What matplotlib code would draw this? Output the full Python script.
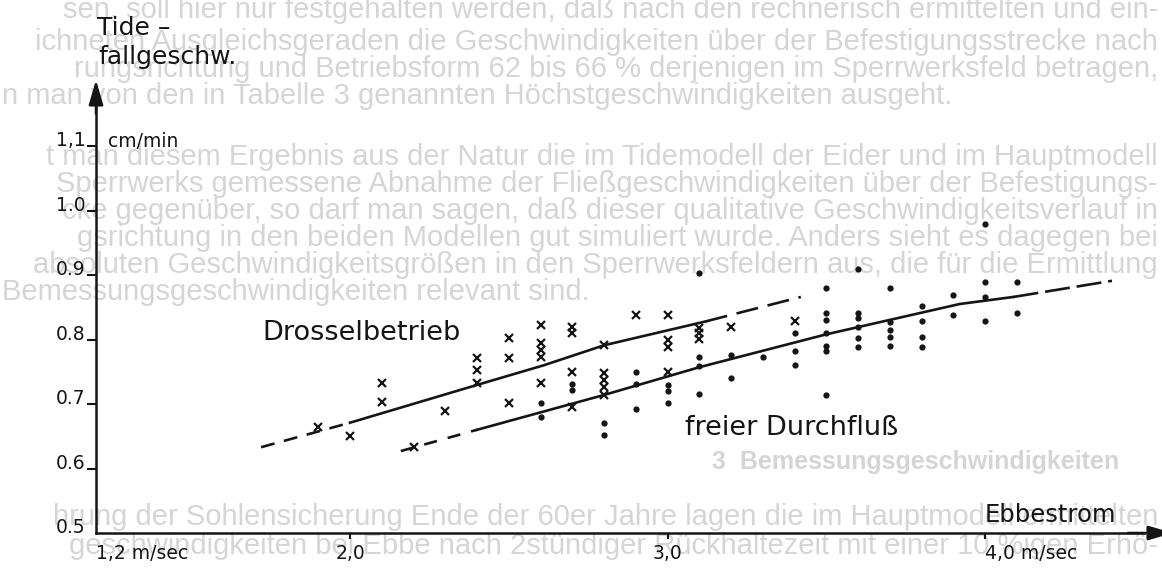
"""
Tidefallgeschwindigkeit über der Ebbestromgeschwindigkeit
(Drosselbetrieb / freier Durchfluß) – Nachzeichnung einer gescannten Abbildung.
"""

import matplotlib
matplotlib.use("Agg")
import matplotlib.pyplot as plt

# ── Messwerte: Ebbestrom [m/sec] / Tidefallgeschw. [cm/min] ──────────────────
drossel_x = [1.9, 2.0, 2.1, 2.1, 2.2, 2.3, 2.4, 2.4, 2.4, 2.5, 2.5, 2.5,
             2.6, 2.6, 2.6, 2.6, 2.6, 2.7, 2.7, 2.7, 2.7,
             2.8, 2.8, 2.8, 2.8, 2.8, 2.9, 3.0, 3.0, 3.0, 3.0,
             3.1, 3.1, 3.1, 3.2, 3.4]
drossel_y = [0.664, 0.650, 0.733, 0.703, 0.633, 0.689, 0.771, 0.753, 0.733,
             0.802, 0.771, 0.702,
             0.822, 0.795, 0.784, 0.773, 0.733, 0.819, 0.810, 0.750, 0.695,
             0.791, 0.748, 0.737, 0.726, 0.714, 0.838, 0.838, 0.799, 0.788, 0.750,
             0.818, 0.810, 0.801, 0.819, 0.829]

frei_x = [2.6, 2.6, 2.7, 2.7, 2.8, 2.8, 2.9, 2.9, 2.9, 3.0, 3.0, 3.0,
          3.1, 3.1, 3.1, 3.1, 3.2, 3.2, 3.3, 3.4, 3.4, 3.4,
          3.5, 3.5, 3.5, 3.5, 3.5, 3.5, 3.5,
          3.6, 3.6, 3.6, 3.6, 3.6, 3.6,
          3.7, 3.7, 3.7, 3.7, 3.7,
          3.8, 3.8, 3.8, 3.8, 3.9, 3.9,
          4.0, 4.0, 4.0, 4.0, 4.1, 4.1]
frei_y = [0.702, 0.680, 0.731, 0.722, 0.671, 0.652, 0.750, 0.731, 0.692,
          0.729, 0.720, 0.702,
          0.903, 0.773, 0.759, 0.716, 0.776, 0.740, 0.773, 0.810, 0.782, 0.760,
          0.880, 0.841, 0.830, 0.810, 0.790, 0.782, 0.714,
          0.909, 0.841, 0.833, 0.819, 0.802, 0.788,
          0.880, 0.827, 0.815, 0.804, 0.790,
          0.852, 0.829, 0.804, 0.788, 0.869, 0.838,
          0.979, 0.889, 0.866, 0.829, 0.889, 0.841]

# Ausgleichskurven (gestrichelt = extrapoliert)
drossel_fit_x = [1.72, 2.00, 2.41, 2.61, 2.80, 3.12, 3.42]
drossel_fit_y = [0.633, 0.671, 0.731, 0.760, 0.791, 0.828, 0.866]
frei_fit_x = [2.16, 2.40, 2.80, 3.10, 3.50, 3.92, 4.09, 4.40]
frei_fit_y = [0.627, 0.660, 0.714, 0.757, 0.808, 0.855, 0.866, 0.891]

y_ticks = [0.5, 0.6, 0.7, 0.8, 0.9, 1.0, 1.1]
y_ticklabels = ["0.5", "0.6", "0.7", "0.8", "0.9", "1.0", "1,1"]
x_ticks = [1.2, 2.0, 3.0, 4.0]
x_ticklabels = ["1,2 m/sec", "2,0", "3,0", "4,0 m/sec"]

# durchscheinender Text der Rückseite (Scan), nur der sichtbare Teil
bg_right = [
    (10, "sen, soll hier nur festgehalten werden, daß nach den rechnerisch ermittelten und ein-"),
    (42, "ichneten Ausgleichsgeraden die Geschwindigkeiten über der Befestigungsstrecke nach"),
    (69, "rungsrichtung und Betriebsform 62 bis 66 % derjenigen im Sperrwerksfeld betragen,"),
    (157, "t man diesem Ergebnis aus der Natur die im Tidemodell der Eider und im Hauptmodell"),
    (184, "Sperrwerks gemessene Abnahme der Fließgeschwindigkeiten über der Befestigungs-"),
    (211, "cke gegenüber, so darf man sagen, daß dieser qualitative Geschwindigkeitsverlauf in"),
    (238, "gsrichtung in den beiden Modellen gut simuliert wurde. Anders sieht es dagegen bei"),
    (265, "absoluten Geschwindigkeitsgrößen in den Sperrwerksfeldern aus, die für die Ermittlung"),
    (517, "hrung der Sohlensicherung Ende der 60er Jahre lagen die im Hauptmodell ermittelten"),
    (546, "geschwindigkeiten bei Ebbe nach 2stündiger Rückhaltezeit mit einer 10 %igen Erhö-"),
]
bg_left = [
    (96, "n man von den in Tabelle 3 genannten Höchstgeschwindigkeiten ausgeht."),
    (292, "Bemessungsgeschwindigkeiten relevant sind."),
]
bg_heading = (462, 712, "3  Bemessungsgeschwindigkeiten")

INK = "#151515"
GHOST = "#d5d5d5"
W, H = 1162, 568
BG_SIZE = 21

plt.rcParams["font.family"] = ["DejaVu Sans"]
plt.rcParams["lines.scale_dashes"] = False

fig = plt.figure(figsize=(W / 100, H / 100), dpi=100)
fig.patch.set_facecolor("white")

for py, txt in bg_right:
    fig.text(1158 / W, 1 - py / H, txt, ha="right", va="center", fontsize=BG_SIZE,
             color=GHOST, family="Liberation Sans", zorder=-1)
for py, txt in bg_left:
    fig.text(2 / W, 1 - py / H, txt, ha="left", va="center", fontsize=BG_SIZE,
             color=GHOST, family="Liberation Sans", zorder=-1)
fig.text(bg_heading[1] / W, 1 - bg_heading[0] / H, bg_heading[2], ha="left",
         va="center", fontsize=18, fontweight="bold", color=GHOST,
         family="Liberation Sans", zorder=-1)

ax = fig.add_axes([0, 0, 1, 1])
ax.set_facecolor("none")
# 1.2 m/sec ↔ 96 px, 317.5 px je m/sec ; 0.5 ↔ 533 px, 645 px je cm/min
ax.set_xlim(1.2 - 96 / 317.5, 1.2 + (W - 96) / 317.5)
ax.set_ylim(0.5 - (H - 533) / 645, 0.5 + 533 / 645)

# ── Achsen mit Pfeilen ───────────────────────────────────────────────────────
ax.spines[["top", "right"]].set_visible(False)
ax.spines["left"].set_position(("data", 1.2))
ax.spines["bottom"].set_position(("data", 0.5))
ax.spines["left"].set_bounds(0.5, 1.17)
ax.spines["bottom"].set_bounds(1.2, 4.5)
for s in ("left", "bottom"):
    ax.spines[s].set_linewidth(1.8)
    ax.spines[s].set_color(INK)

arrow = dict(arrowstyle="-|>,head_length=0.75,head_width=0.22",
             mutation_scale=20, lw=1.8, color=INK, shrinkA=0, shrinkB=0)
ax.annotate("", xy=(1.2, 1.2023), xytext=(1.2, 1.15), arrowprops=arrow,
            annotation_clip=False)
ax.annotate("", xy=(4.592, 0.5), xytext=(4.45, 0.5), arrowprops=arrow,
            annotation_clip=False)

ax.set_yticks(y_ticks, y_ticklabels)
ax.set_xticks(x_ticks, x_ticklabels)
ax.tick_params(axis="y", direction="out", length=6.5, width=1.5, pad=1,
               labelsize=13.5, colors=INK)
ax.tick_params(axis="x", direction="out", length=4, width=1.5, pad=4,
               labelsize=13.5, colors=INK)
for lbl in ax.get_yticklabels():
    lbl.set_va("baseline")
xl = ax.get_xticklabels()
xl[0].set_ha("left")
xl[-1].set_ha("left")
ax.xaxis.get_major_ticks()[0].tick1line.set_visible(False)
ax.yaxis.get_major_ticks()[0].tick1line.set_visible(False)

# ── Messpunkte ───────────────────────────────────────────────────────────────
ax.plot(drossel_x, drossel_y, ls="none", marker="x", ms=5.5, mew=1.6,
        color=INK, zorder=3)
ax.plot(frei_x, frei_y, ls="none", marker="o", ms=4.5, mew=0,
        color=INK, zorder=3)

# ── Ausgleichskurven ─────────────────────────────────────────────────────────
lw = 1.9
ax.plot(drossel_fit_x[:2], drossel_fit_y[:2], color=INK, lw=lw, dashes=(10, 7))
ax.plot(drossel_fit_x[1:6], drossel_fit_y[1:6], color=INK, lw=lw)
ax.plot(drossel_fit_x[5:], drossel_fit_y[5:], color=INK, lw=lw, dashes=(16, 7))
ax.plot(frei_fit_x[:2], frei_fit_y[:2], color=INK, lw=lw, dashes=(9.5, 8))
ax.plot(frei_fit_x[1:7], frei_fit_y[1:7], color=INK, lw=lw)
ax.plot(frei_fit_x[6:], frei_fit_y[6:], color=INK, lw=lw, dashes=(18, 5))

# ── Beschriftungen ───────────────────────────────────────────────────────────
ax.text(1.203, 1.272, "Tide –", fontsize=18, color=INK, va="baseline")
ax.text(1.206, 1.227, "fallgeschw.", fontsize=18, color=INK, va="baseline")
ax.text(1.238, 1.098, "cm/min", fontsize=13.5, color=INK, va="baseline")
ax.text(1.723, 0.799, "Drosselbetrieb", fontsize=19.5, color=INK, va="baseline")
ax.text(3.055, 0.652, "freier Durchfluß", fontsize=19.5, color=INK, va="baseline")
ax.text(4.0, 0.517, "Ebbestrom", fontsize=17.5, color=INK, va="baseline")

fig.savefig("out.png", dpi=100)
